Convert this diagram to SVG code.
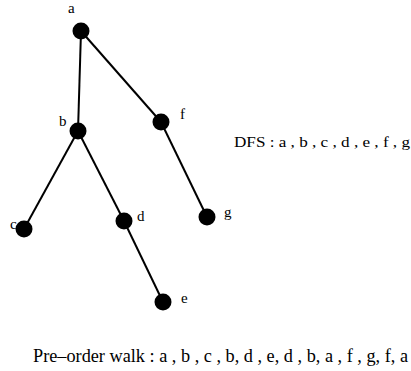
<svg xmlns="http://www.w3.org/2000/svg" width="411" height="371" viewBox="0 0 411 371">
<style>
.n{fill:#000}
.e{stroke:#000;stroke-width:2;fill:none}
text{font-family:"Liberation Serif","Times New Roman",serif;font-size:15px;fill:#000}
</style>
<rect width="411" height="371" fill="#fff"/>
<g id="connectors">
<line class="e" x1="81" y1="31" x2="78" y2="131"/>
<line class="e" x1="81" y1="31" x2="161" y2="122"/>
<line class="e" x1="78" y1="131" x2="24" y2="229"/>
<line class="e" x1="78" y1="131" x2="124" y2="221"/>
<line class="e" x1="124" y1="221" x2="163" y2="302"/>
<line class="e" x1="161" y1="122" x2="207" y2="217"/>
</g>
<g id="a"><circle class="n" cx="81" cy="31" r="8.5"/><text x="68" y="13">a</text></g>
<g id="b"><circle class="n" cx="78" cy="131" r="8.5"/><text x="59" y="126">b</text></g>
<g id="f"><circle class="n" cx="161" cy="122" r="8.5"/><text x="180" y="119">f</text></g>
<g id="c"><circle class="n" cx="24" cy="229" r="8.5"/><text x="10" y="229">c</text></g>
<g id="d"><circle class="n" cx="124" cy="221" r="8.5"/><text x="137" y="221">d</text></g>
<g id="g"><circle class="n" cx="207" cy="217" r="8.5"/><text x="224" y="217">g</text></g>
<g id="e"><circle class="n" cx="163" cy="302" r="8.5"/><text x="181" y="303">e</text></g>
<text x="234" y="147" style="font-size:15.5px" textLength="176" lengthAdjust="spacingAndGlyphs">DFS : a , b , c , d , e , f , g</text>
<text x="33" y="362" style="font-size:18px" textLength="375" lengthAdjust="spacingAndGlyphs">Pre–order walk :  a , b , c , b, d , e, d , b, a , f , g, f, a</text>
</svg>
